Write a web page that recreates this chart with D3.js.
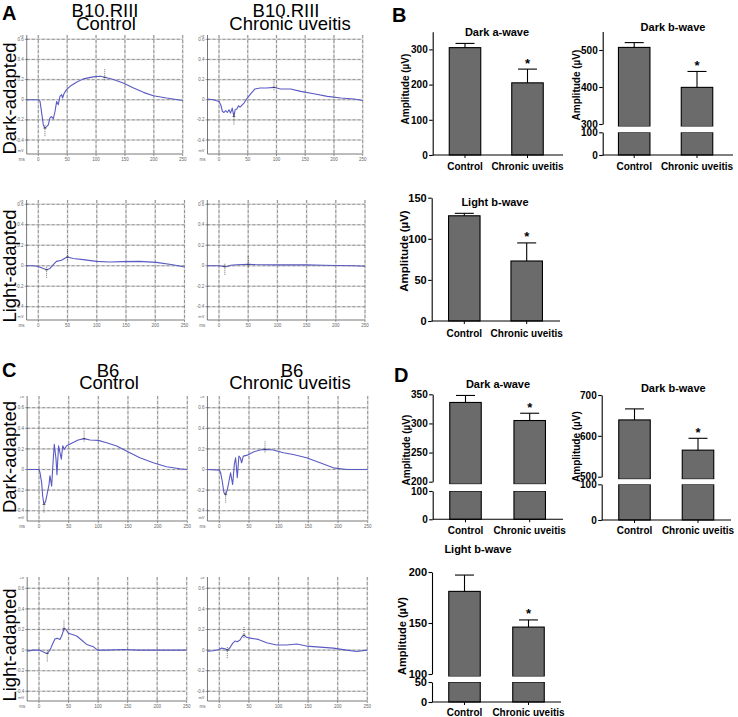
<!DOCTYPE html>
<html><head><meta charset="utf-8">
<script src="https://cdn.jsdelivr.net/npm/d3@7"></script>
<style>body{margin:0;background:#fff}svg{display:block}</style>
</head><body><svg id="c" width="738" height="717"></svg>
<script>
// ---------- DATA ----------
const categories = ["Control", "Chronic uveitis"];
const ergXTicks = [0, 50, 100, 150, 200, 250];
const ergYTicks = [-0.4, -0.2, 0, 0.2, 0.4, 0.6];
const ergYLabels = ["-0.4", "-0.2", "0", "0.2", "0.4", "0.6"];

// ERG traces [time ms, amplitude]
const traceB10DarkCtrl = [[-20,0],[0,0],[3,-0.017],[5.8,-0.13],[8.7,-0.25],[11.5,-0.283],[14.4,-0.267],[17.3,-0.25],[20.2,-0.18],[23,-0.167],[26,-0.19],[28.9,-0.117],[31.8,-0.017],[34.6,-0.05],[37.5,0.033],[40.4,0.05],[42,0.017],[45,0.067],[49,0.1],[55,0.133],[66,0.173],[78,0.207],[95,0.227],[107,0.233],[115,0.223],[130,0.2],[147,0.167],[165,0.117],[182,0.073],[199,0.04],[222,0.017],[250,-0.007]];
const traceB10DarkUv = [[-20,0.007],[-10,0],[0,-0.017],[3,-0.05],[6,-0.117],[8.7,-0.127],[11.6,-0.107],[14.5,-0.127],[17.4,-0.1],[20,-0.133],[23,-0.083],[26,-0.167],[28,-0.1],[31,-0.093],[34,-0.06],[36.5,-0.073],[43.5,-0.033],[48,0.007],[54,0.05],[62.6,0.107],[71.5,0.117],[83,0.117],[95.7,0.123],[107,0.107],[124.7,0.107],[142,0.083],[165,0.06],[188.5,0.033],[211.7,0.017],[235,0.007],[250,-0.007]];
const traceB10LightCtrl = [[-20,0],[-8.5,0],[0,-0.007],[8.5,-0.026],[14.2,-0.04],[20,-0.026],[25.6,0.01],[31,0.043],[39.8,0.053],[45.4,0.073],[50,0.086],[59.6,0.07],[76.7,0.06],[99.4,0.043],[122,0.036],[145,0.04],[173,0.043],[201.7,0.033],[230,0.01],[250,-0.013]];
const traceB10LightUv = [[-20,0],[-10,0],[0,0],[5,-0.005],[10,-0.01],[15,-0.008],[20,0.005],[30,0.01],[40,0.012],[50,0.015],[60,0.012],[80,0.01],[100,0.008],[120,0.01],[150,0.008],[180,0.005],[200,0.003],[230,0],[250,-0.005]];
const traceB6DarkCtrl = [[-20,0],[0,0],[1.7,-0.03],[4.5,-0.13],[6.2,-0.26],[8.4,-0.34],[11.2,-0.31],[14,-0.23],[16.9,-0.146],[18.5,-0.06],[21.3,-0.163],[24,0.1],[25.8,0.244],[28.7,0.1],[30.3,-0.05],[33,0.23],[35.4,0.163],[37.6,0.1],[40,0.23],[42.7,0.195],[46.6,0.23],[55,0.254],[66,0.286],[76,0.3],[86,0.286],[100,0.283],[114,0.26],[131,0.228],[150.6,0.17],[170,0.114],[192.7,0.065],[215,0.026],[237.6,0.0065],[250,0]];
const traceB6DarkUv = [[-20,0],[0,-0.006],[2,-0.026],[5,-0.114],[7.9,-0.228],[10.7,-0.244],[13.5,-0.195],[16.3,-0.114],[19,-0.033],[22.5,-0.146],[25.3,0.049],[27.5,0.114],[30.3,-0.08],[33,0.13],[35.4,0.114],[37.6,0.065],[40.4,0.13],[46,0.137],[57.3,0.17],[68.5,0.189],[77,0.195],[91,0.189],[107.9,0.163],[124.7,0.146],[147,0.114],[169.7,0.065],[192,0.016],[214.6,0],[237,0],[250,0]];
const traceB6LightCtrl = [[-20,-0.01],[-9.6,0],[0,0],[4.5,-0.01],[10,-0.026],[14,-0.033],[18.6,0],[23,0.059],[27,0.107],[31,0.114],[35.5,0.104],[39,0.146],[42.3,0.211],[45.7,0.2],[49.7,0.163],[55.3,0.153],[63.8,0.137],[72,0.098],[80.7,0.055],[92,0.033],[98.8,0],[114.6,0],[142.8,0.0065],[171,0],[204.8,0],[250,0]];
const traceB6LightUv = [[-20,-0.01],[-10,-0.0065],[0,0.0065],[4,0.0195],[9.6,0.013],[13.5,0],[18,0.023],[22.5,0.065],[26.5,0.088],[30.4,0.081],[35,0.098],[38.3,0.13],[41.7,0.146],[46,0.124],[54.6,0.114],[66,0.104],[80,0.072],[96.8,0.049],[113.7,0.049],[130.6,0.059],[147.5,0.039],[170,0.029],[192.6,0.0195],[215,0],[232,-0.013],[250,0]];
// cursor marks [time, direction]
const marksB10DarkCtrl = [[11.5,1],[115,-1]];
const marksB10DarkUv = [[26,1],[95.7,-1]];
const marksB10LightCtrl = [[14.2,1],[50,-1]];
const marksB10LightUv = [[10,1],[50,-1]];
const marksB6DarkCtrl = [[8.4,1],[76,-1]];
const marksB6DarkUv = [[10.7,1],[77,-1]];
const marksB6LightCtrl = [[14,1],[42.3,-1]];
const marksB6LightUv = [[13.5,1],[41.7,-1]];

// Bar values (µV) and SEM
const bDarkA = [305, 205], bDarkAErr = [12, 39];
const bDarkB = [507, 399], bDarkBErr = [13, 43];
const bLightB = [128, 73], bLightBErr = [3, 22];
const dDarkA = [336, 305], dDarkAErr = [12, 12.5];
const dDarkB = [639, 565], dDarkBErr = [27, 29];
const dLightB = [181, 146], dLightBErr = [16, 7];

// ---------- DRAW ----------
const FONT = "'Liberation Sans', Arial, Helvetica, sans-serif";
const svg = d3.select("#c").style("font-family", FONT);

function txt(x, y, s, o = {}) {
  const t = svg.append("text").attr("x", x).attr("y", y).text(s)
    .attr("font-size", o.fs || 10).attr("font-weight", o.fw || "normal")
    .attr("text-anchor", o.anchor || "middle").attr("fill", o.fill || "#000");
  if (o.rot) t.attr("transform", `rotate(-90,${x},${y})`);
  return t;
}
function title2(x1, x2, y, l1, l2) {
  const t = svg.append("text").attr("y", y).attr("font-size", 18.5).attr("text-anchor", "middle");
  t.append("tspan").attr("x", x1).attr("y", y).text(l1);
  t.append("tspan").attr("x", x2).attr("y", y + 12.8).text(l2);
}

function erg(cfg) {
  const x = d3.scaleLinear().domain([0, 250]).range([cfg.x0, cfg.x250]);
  const y = d3.scaleLinear().domain([-0.4, 0.6]).range([cfg.ym04, cfg.y06]);
  const left = x(-20), right = x(250);
  const g = svg.append("g");
  // grid
  [["#dcdcdc", 1.6, null], ["#777", 0.7, "3,2"]].forEach(([c, w, da]) => {
    g.append("g").selectAll("line").data(ergYTicks).join("line")
      .attr("x1", left).attr("x2", right).attr("y1", d => y(d)).attr("y2", d => y(d))
      .attr("stroke", c).attr("stroke-width", w).attr("stroke-dasharray", da);
    g.append("g").selectAll("line").data(ergXTicks).join("line")
      .attr("x1", d => x(d)).attr("x2", d => x(d)).attr("y1", cfg.top).attr("y2", cfg.bottom)
      .attr("stroke", c).attr("stroke-width", w).attr("stroke-dasharray", da);
  });
  // axes
  g.append("line").attr("x1", left).attr("x2", left).attr("y1", cfg.top).attr("y2", cfg.bottom).attr("stroke", "#555").attr("stroke-width", 0.8);
  g.append("line").attr("x1", left).attr("x2", right).attr("y1", cfg.bottom).attr("y2", cfg.bottom).attr("stroke", "#555").attr("stroke-width", 0.8);
  g.selectAll("line.yt").data(ergYTicks).join("line").attr("class", "yt")
    .attr("x1", left - 2).attr("x2", left + 1).attr("y1", d => y(d)).attr("y2", d => y(d)).attr("stroke", "#555").attr("stroke-width", 0.6);
  g.selectAll("line.xt").data(ergXTicks).join("line").attr("class", "xt")
    .attr("x1", d => x(d)).attr("x2", d => x(d)).attr("y1", cfg.bottom).attr("y2", cfg.bottom + 2).attr("stroke", "#555").attr("stroke-width", 0.6);
  g.selectAll("text.yl").data(ergYTicks).join("text").attr("class", "yl")
    .attr("x", left - 3).attr("y", d => y(d) + 1.6).attr("text-anchor", "end")
    .attr("font-size", 4.5).attr("fill", "#666").text((d, i) => ergYLabels[i]);
  g.selectAll("text.xl").data(ergXTicks).join("text").attr("class", "xl")
    .attr("x", d => x(d)).attr("y", cfg.bottom + 6.5).attr("text-anchor", "middle")
    .attr("font-size", 4.5).attr("fill", "#666").text(d => d);
  g.append("text").attr("x", left - 5).attr("y", cfg.bottom + 6.5).attr("text-anchor", "middle").attr("font-size", 4.5).attr("fill", "#666").text("ms");
  g.append("text").attr("x", left - 3).attr("y", cfg.bottom - 2).attr("text-anchor", "end").attr("font-size", 4).attr("fill", "#666").text("mV");
  g.append("text").attr("x", left - 3).attr("y", cfg.top + 2).attr("text-anchor", "end").attr("font-size", 4).attr("fill", "#666").text("+e");
  // trace
  const line = d3.line().x(d => x(d[0])).y(d => y(d[1]));
  g.append("path").datum(cfg.data).attr("d", line).attr("fill", "none")
    .attr("stroke", "#5a5ac4").attr("stroke-width", 1.1).attr("stroke-linejoin", "round");
  // cursor marks
  const interp = t => {
    const d = cfg.data; for (let i = 1; i < d.length; i++) if (d[i][0] >= t) {
      const f = (t - d[i - 1][0]) / (d[i][0] - d[i - 1][0]); return d[i - 1][1] + f * (d[i][1] - d[i - 1][1]);
    } return 0;
  };
  cfg.marks.forEach(([t, dir]) => {
    const py = y(interp(t));
    g.append("line").attr("x1", x(t)).attr("x2", x(t)).attr("y1", py - 3 * dir).attr("y2", py + 8 * dir)
      .attr("stroke", "#333").attr("stroke-width", 0.7).attr("stroke-dasharray", "1,1");
    g.append("line").attr("x1", x(t) - 1.5).attr("x2", x(t) + 1.5).attr("y1", py).attr("y2", py)
      .attr("stroke", "#333").attr("stroke-width", 0.6);
  });
}

// Panel A ERGs
erg({x0: 38.3, x250: 182.7, y06: 39.3, ym04: 140, top: 35, bottom: 154, data: traceB10DarkCtrl, marks: marksB10DarkCtrl});
erg({x0: 219, x250: 362.7, y06: 39.3, ym04: 140, top: 35, bottom: 154, data: traceB10DarkUv, marks: marksB10DarkUv});
erg({x0: 38.3, x250: 184.5, y06: 204.3, ym04: 306.7, top: 200, bottom: 320, data: traceB10LightCtrl, marks: marksB10LightCtrl});
erg({x0: 219, x250: 365, y06: 204.3, ym04: 306.7, top: 200, bottom: 320, data: traceB10LightUv, marks: marksB10LightUv});
// Panel C ERGs
erg({x0: 39, x250: 187.3, y06: 407.7, ym04: 510.7, top: 396, bottom: 521, data: traceB6DarkCtrl, marks: marksB6DarkCtrl});
erg({x0: 219.3, x250: 367.7, y06: 407.7, ym04: 510.7, top: 396, bottom: 521, data: traceB6DarkUv, marks: marksB6DarkUv});
erg({x0: 39, x250: 186.7, y06: 588.3, ym04: 691.3, top: 577, bottom: 701, data: traceB6LightCtrl, marks: marksB6LightCtrl});
erg({x0: 219.3, x250: 367.3, y06: 588.3, ym04: 691.3, top: 577, bottom: 701, data: traceB6LightUv, marks: marksB6LightUv});

// ERG titles & row labels
title2(105, 106, 17, "B10.RIII", "Control");
title2(286, 290, 17, "B10.RIII", "Chronic uveitis");
title2(108, 109, 376.5, "B6", "Control");
title2(292, 290, 376.5, "B6", "Chronic uveitis");
txt(15.5, 98.5, "Dark-adapted", {fs: 18.5, rot: true});
txt(15.5, 266, "Light-adapted", {fs: 18.5, rot: true});
txt(15.5, 457, "Dark-adapted", {fs: 18.5, rot: true});
txt(15.5, 645, "Light-adapted", {fs: 18.5, rot: true});
// panel letters
txt(2, 20, "A", {fs: 20, fw: "bold", anchor: "start"});
txt(392, 21.5, "B", {fs: 20, fw: "bold", anchor: "start"});
txt(2, 376.5, "C", {fs: 20, fw: "bold", anchor: "start"});
txt(394, 381.5, "D", {fs: 20, fw: "bold", anchor: "start"});

function barChart(cfg) {
  const xp = d3.scalePoint().domain(categories).range(cfg.centers);
  const bw = 31.5;
  const segs = cfg.segs.map(s => ({...s, sc: d3.scaleLinear().domain(s.d).range(s.r)}));
  const g = svg.append("g");
  const fs = cfg.fs || 10;
  // bars
  segs.forEach((s, si) => {
    categories.forEach((c, i) => {
      const v = cfg.values[i];
      if (v <= s.d[0]) return;
      const top = s.sc(Math.min(v, s.d[1]));
      const bot = s.sc(s.d[0]) + (si > 0 ? 2.5 : 0);
      g.append("rect").attr("x", xp(c) - bw / 2).attr("y", top).attr("width", bw).attr("height", bot - top)
        .attr("fill", "#6b6b6b").attr("stroke", "#000").attr("stroke-width", 1.1);
    });
  });
  // white gap masks for broken axis
  if (segs.length > 1) {
    const gTop = segs[1].sc(segs[1].d[0]) + 2.5, gBot = segs[0].sc(segs[0].d[1]);
    categories.forEach(c => {
      g.append("rect").attr("x", xp(c) - bw / 2 - 1).attr("y", gTop).attr("width", bw + 2).attr("height", gBot - gTop).attr("fill", "#fff");
    });
  }
  // error bars + asterisk
  categories.forEach((c, i) => {
    const v = cfg.values[i], e = cfg.errs[i];
    const s = segs.find(s => v >= s.d[0] && v <= s.d[1]) || segs[segs.length - 1];
    const y1 = s.sc(v), y2 = s.sc(v + e);
    g.append("line").attr("x1", xp(c)).attr("x2", xp(c)).attr("y1", y1).attr("y2", y2).attr("stroke", "#000").attr("stroke-width", 1.1);
    g.append("line").attr("x1", xp(c) - 9.5).attr("x2", xp(c) + 9.5).attr("y1", y2).attr("y2", y2).attr("stroke", "#000").attr("stroke-width", 1.1);
    if (i === 1) g.append("text").attr("x", xp(c)).attr("y", y2 - 9 + 0.57 * 13).attr("text-anchor", "middle")
      .attr("font-size", 13).attr("font-weight", "bold").text("*");
  });
  // y axes
  segs.forEach(s => {
    const ax = g.append("g").attr("transform", `translate(${cfg.axisX},0)`)
      .call(d3.axisLeft(s.sc).tickValues(s.ticks).tickSize(3.5).tickSizeOuter(0).tickPadding(1.5));
    ax.selectAll("path,line").attr("stroke", "#000").attr("stroke-width", 1.1);
    ax.selectAll("text").attr("font-size", fs).attr("font-weight", "bold").attr("font-family", FONT).attr("fill", "#000");
  });
  // x axis
  const by = segs[0].r[0];
  g.append("line").attr("x1", cfg.axisX).attr("x2", cfg.axisEnd).attr("y1", by).attr("y2", by).attr("stroke", "#000").attr("stroke-width", 1.1);
  categories.forEach(c => {
    g.append("line").attr("x1", xp(c)).attr("x2", xp(c)).attr("y1", by).attr("y2", by + 3).attr("stroke", "#000").attr("stroke-width", 1);
    g.append("text").attr("x", xp(c)).attr("y", cfg.catY).attr("text-anchor", "middle").attr("font-size", 10).attr("font-weight", "bold").text(c);
  });
  txt(cfg.titleX, cfg.titleY, cfg.title, {fs: 11, fw: "bold"});
  txt(cfg.ylX, cfg.ylY, "Amplitude (µV)", {fs: cfg.lfs || 10, fw: "bold", rot: true});
}

barChart({title: "Dark a-wave", titleX: 497, titleY: 35.5, values: bDarkA, errs: bDarkAErr,
  axisX: 432.7, axisEnd: 563, centers: [465, 527.5], catY: 169.5, ylX: 409, ylY: 89,
  segs: [{d: [0, 350], r: [155, 31.8], ticks: [0, 100, 200, 300]}]});
barChart({title: "Dark b-wave", titleX: 673, titleY: 30.5, values: bDarkB, errs: bDarkBErr,
  axisX: 602.7, axisEnd: 733, centers: [634.2, 697], catY: 169.5, ylX: 579.5, ylY: 85,
  segs: [{d: [0, 100], r: [155, 132.3], ticks: [0, 100]}, {d: [300, 550], r: [124, 31.5], ticks: [300, 400, 500]}]});
barChart({title: "Light b-wave", titleX: 495, titleY: 205.5, values: bLightB, errs: bLightBErr,
  axisX: 431.7, axisEnd: 560, centers: [464.3, 526.7], catY: 337, ylX: 408, ylY: 251, fs: 11, lfs: 11.5,
  segs: [{d: [0, 150], r: [321, 197.7], ticks: [0, 50, 100, 150]}]});
barChart({title: "Dark a-wave", titleX: 498, titleY: 388, values: dDarkA, errs: dDarkAErr,
  axisX: 432.7, axisEnd: 563, centers: [465.5, 529.7], catY: 534, ylX: 410, ylY: 450,
  segs: [{d: [0, 100], r: [519.3, 491], ticks: [0, 100]}, {d: [200, 350], r: [481.7, 394.3], ticks: [200, 250, 300, 350]}]});
barChart({title: "Dark b-wave", titleX: 673.3, titleY: 392, values: dDarkB, errs: dDarkBErr,
  axisX: 601.7, axisEnd: 731, centers: [634.5, 698], catY: 534, ylX: 580, ylY: 446.5,
  segs: [{d: [0, 100], r: [520, 484.3], ticks: [0, 100]}, {d: [500, 700], r: [476.7, 395], ticks: [500, 600, 700]}]});
barChart({title: "Light b-wave", titleX: 478, titleY: 553, values: dLightB, errs: dLightBErr,
  axisX: 432, axisEnd: 561, centers: [464.5, 528.5], catY: 715.5, ylX: 406, ylY: 636, fs: 11, lfs: 11,
  segs: [{d: [0, 50], r: [702, 682], ticks: [0, 50]}, {d: [100, 200], r: [674, 572], ticks: [100, 150, 200]}]});
</script></body></html>
